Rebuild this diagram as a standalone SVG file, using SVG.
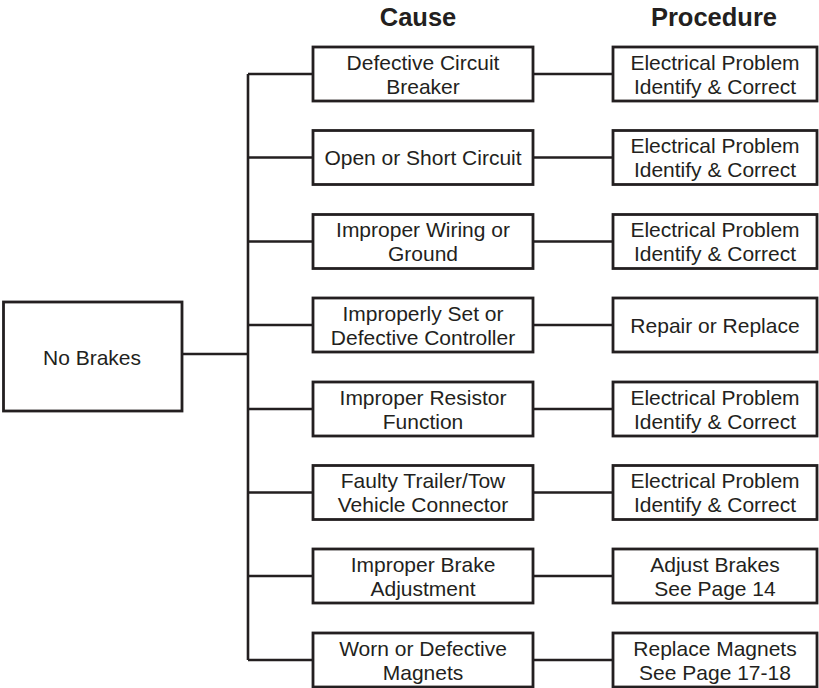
<svg xmlns="http://www.w3.org/2000/svg" width="819" height="688" viewBox="0 0 819 688">
<style>
.box{fill:#fff;stroke:#231f20;stroke-width:2.8}
.ln{fill:none;stroke:#231f20;stroke-width:2.6}
text{font-family:"Liberation Sans",Arial,sans-serif;font-size:21px;fill:#231f20;text-anchor:middle}
.hd{font-weight:bold;font-size:25.5px}
</style>
<rect width="819" height="688" fill="#fff"/>
<g id="headers">
<text class="hd" x="418" y="26">Cause</text>
<text class="hd" x="714" y="26">Procedure</text>
</g>
<g id="connectors">
<path class="ln" d="M182 354H248M248 74V660"/>
<path class="ln" d="M248 74H313M533 74H613"/>
<path class="ln" d="M248 157.5H313M533 157.5H613"/>
<path class="ln" d="M248 241.5H313M533 241.5H613"/>
<path class="ln" d="M248 325H313M533 325H613"/>
<path class="ln" d="M248 409H313M533 409H613"/>
<path class="ln" d="M248 492.5H313M533 492.5H613"/>
<path class="ln" d="M248 576H313M533 576H613"/>
<path class="ln" d="M248 660H313M533 660H613"/>
</g>
<g id="no-brakes">
<rect class="box" x="3.5" y="302" width="178.5" height="109"/>
<text x="92" y="365">No Brakes</text>
</g>
<g id="cause-1"><rect class="box" x="313" y="47" width="220" height="54"/><text x="423" y="69.5">Defective Circuit</text><text x="423" y="93.5">Breaker</text></g>
<g id="proc-1"><rect class="box" x="613" y="47" width="204" height="54"/><text x="715" y="69.5">Electrical Problem</text><text x="715" y="93.5">Identify &amp; Correct</text></g>
<g id="cause-2"><rect class="box" x="313" y="130.5" width="220" height="54"/><text x="423" y="165">Open or Short Circuit</text></g>
<g id="proc-2"><rect class="box" x="613" y="130.5" width="204" height="54"/><text x="715" y="153">Electrical Problem</text><text x="715" y="177">Identify &amp; Correct</text></g>
<g id="cause-3"><rect class="box" x="313" y="214.5" width="220" height="54"/><text x="423" y="237">Improper Wiring or</text><text x="423" y="261">Ground</text></g>
<g id="proc-3"><rect class="box" x="613" y="214.5" width="204" height="54"/><text x="715" y="237">Electrical Problem</text><text x="715" y="261">Identify &amp; Correct</text></g>
<g id="cause-4"><rect class="box" x="313" y="298" width="220" height="54"/><text x="423" y="320.5">Improperly Set or</text><text x="423" y="344.5">Defective Controller</text></g>
<g id="proc-4"><rect class="box" x="613" y="298" width="204" height="54"/><text x="715" y="332.5">Repair or Replace</text></g>
<g id="cause-5"><rect class="box" x="313" y="382" width="220" height="54"/><text x="423" y="404.5">Improper Resistor</text><text x="423" y="428.5">Function</text></g>
<g id="proc-5"><rect class="box" x="613" y="382" width="204" height="54"/><text x="715" y="404.5">Electrical Problem</text><text x="715" y="428.5">Identify &amp; Correct</text></g>
<g id="cause-6"><rect class="box" x="313" y="465.5" width="220" height="54"/><text x="423" y="488">Faulty Trailer/Tow</text><text x="423" y="512">Vehicle Connector</text></g>
<g id="proc-6"><rect class="box" x="613" y="465.5" width="204" height="54"/><text x="715" y="488">Electrical Problem</text><text x="715" y="512">Identify &amp; Correct</text></g>
<g id="cause-7"><rect class="box" x="313" y="549" width="220" height="54"/><text x="423" y="571.5">Improper Brake</text><text x="423" y="595.5">Adjustment</text></g>
<g id="proc-7"><rect class="box" x="613" y="549" width="204" height="54"/><text x="715" y="571.5">Adjust Brakes</text><text x="715" y="595.5">See Page 14</text></g>
<g id="cause-8"><rect class="box" x="313" y="633" width="220" height="54"/><text x="423" y="655.5">Worn or Defective</text><text x="423" y="679.5">Magnets</text></g>
<g id="proc-8"><rect class="box" x="613" y="633" width="204" height="54"/><text x="715" y="655.5">Replace Magnets</text><text x="715" y="679.5">See Page 17-18</text></g>
</svg>
